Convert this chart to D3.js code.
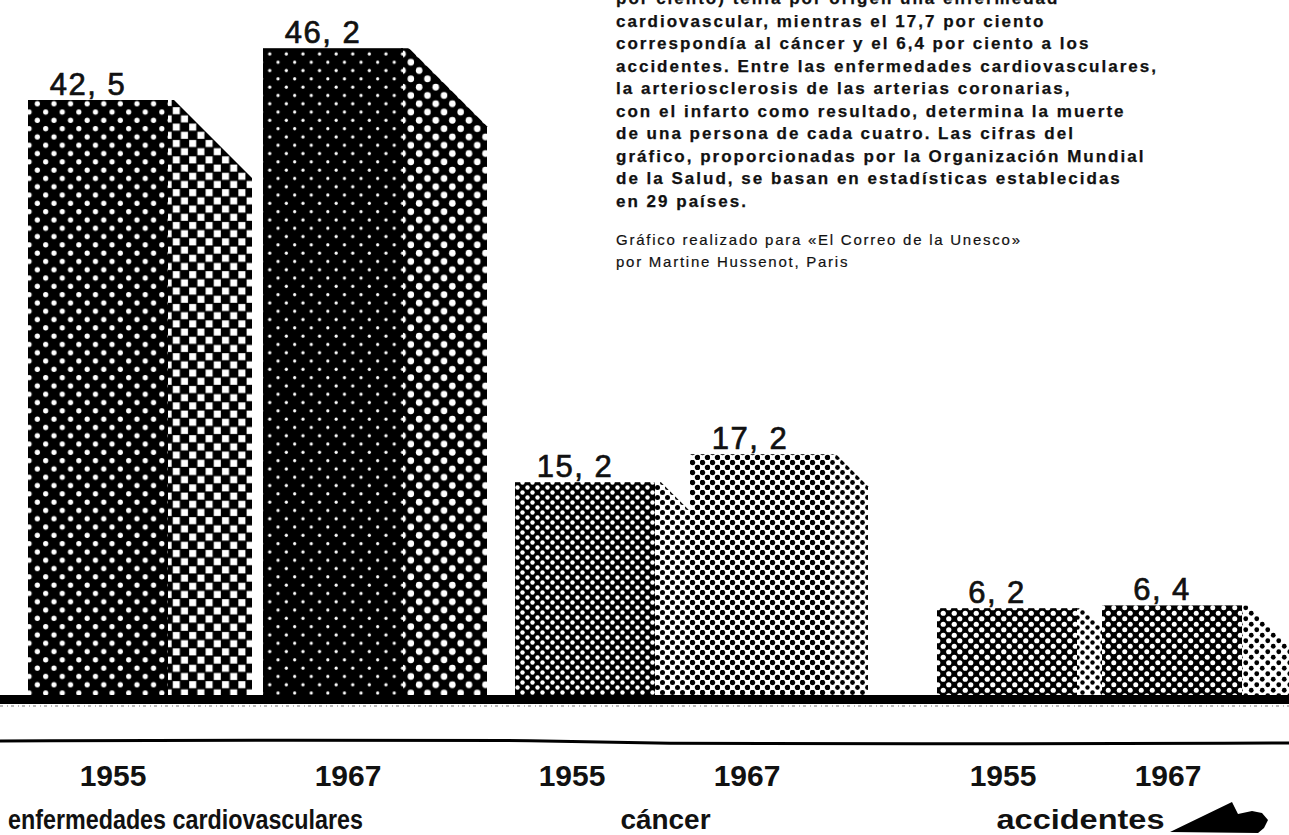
<!DOCTYPE html>
<html lang="es">
<head>
<meta charset="UTF-8">
<title>Causas de muerte 1955 - 1967</title>
<script src="https://d3js.org/d3.v7.min.js"></script>
<style>
  body { margin: 0; background: #fff; }
  svg { display: block; background: #fff; }
  .value { font-family: "Liberation Sans", Arial, sans-serif; font-size: 31px; letter-spacing: 1.5px; fill: #111; stroke: #111; stroke-width: 0.7px; }
  .year, .cat { font-family: "Liberation Sans", Arial, sans-serif; font-weight: bold; fill: #111; }
  .year { font-size: 30px; }
  .cat { font-size: 28px; }
  .note { font-family: "Liberation Sans", Arial, sans-serif; font-weight: bold; font-size: 17px; fill: #111; stroke: #111; stroke-width: 0.25px; }
  .credit { font-family: "Liberation Sans", Arial, sans-serif; font-size: 15px; fill: #111; stroke: #111; stroke-width: 0.2px; }
</style>
</head>
<body>
<svg id="chart" width="1289" height="835"></svg>
<script>
// datos (por ciento de las defunciones)
const categories = ["enfermedades cardiovasculares", "cáncer", "accidentes"];
const years = ["1955", "1967"];
const values1955 = [42.5, 15.2, 6.2];
const values1967 = [46.2, 17.2, 6.4];

const noteLines = [
  "por ciento) tenía por origen una enfermedad",
  "cardiovascular, mientras el 17,7 por ciento",
  "correspondía al cáncer y el 6,4 por ciento a los",
  "accidentes. Entre las enfermedades cardiovasculares,",
  "la arteriosclerosis de las arterias coronarias,",
  "con el infarto como resultado, determina la muerte",
  "de una persona de cada cuatro. Las cifras del",
  "gráfico, proporcionadas por la Organización Mundial",
  "de la Salud, se basan en estadísticas establecidas",
  "en 29 países."
];
const creditLines = [
  "Gráfico realizado para «El Correo de la Unesco»",
  "por Martine Hussenot, Paris"
];

// maquetación (estilo, no datos)
const W = 1289, H = 835;
const base = 695;
const barW = 140;
const groupLayout = [
  { inner: 235, depth: 84, gap: 28, labelWidth: 355, labelShift: -30, yearShift: 15 },
  { inner: 175, depth: 38, gap: 69, labelWidth: 90, labelShift: -7, yearShift: -13 },
  { inner: 165, depth: 48, gap: 0, labelWidth: 168, labelShift: -9, yearShift: -4 }
];
const noteX = 616, noteWidth = 540;
// tramas: [frente, lado] por barra
const patterns = [
  [["dots", 16.6, "#000", "#fff", 2.6], ["checker", 8.2]],
  [["dots", 16.6, "#000", "#fff", 1.6], ["dots", 16.6, "#000", "#fff", 3.3]],
  [["dots", 10, "#000", "#fff", 2.2], ["dots", 10, "#fff", "#000", 2.5]],
  [["dots", 10, "#fff", "#000", 2.7], ["dots", 10, "#fff", "#000", 2.4]],
  [["dots", 11, "#000", "#fff", 2.6], ["dots", 10, "#fff", "#000", 2.2]],
  [["dots", 11, "#000", "#fff", 2.5], ["dots", 11, "#fff", "#000", 2.4]]
];

const svg = d3.select("#chart");
const defs = svg.append("defs");

function makePattern(id, spec) {
  if (spec[0] === "checker") {
    let s = spec[1];
    let p = defs.append("pattern").attr("id", id).attr("patternUnits", "userSpaceOnUse")
      .attr("width", 2 * s).attr("height", 2 * s);
    p.append("rect").attr("width", 2 * s).attr("height", 2 * s).attr("fill", "#000");
    p.append("rect").attr("x", 0.6).attr("y", 0.6).attr("width", s - 1.2).attr("height", s - 1.2).attr("fill", "#fff");
    p.append("rect").attr("x", s + 0.6).attr("y", s + 0.6).attr("width", s - 1.2).attr("height", s - 1.2).attr("fill", "#fff");
    return;
  }
  let [, s, bg, fg, r] = spec;
  let p = defs.append("pattern").attr("id", id).attr("patternUnits", "userSpaceOnUse")
    .attr("width", s).attr("height", s);
  p.append("rect").attr("width", s).attr("height", s).attr("fill", bg);
  [[s / 4, s / 4], [3 * s / 4, 3 * s / 4]].forEach(c => {
    p.append("circle").attr("cx", c[0]).attr("cy", c[1]).attr("r", r).attr("fill", fg);
  });
}

// posiciones de grupo a partir de la maquetación
const groupWidths = groupLayout.map(g => g.inner + barW + g.depth + g.gap);
const starts = [0].concat(Array.from(d3.cumsum(groupWidths)).slice(0, -1)).map(v => v + 28);
const xGroup = d3.scaleOrdinal().domain(categories).range(starts);

const y = d3.scaleLinear().domain([0, 50]).range([base, base - 700]);

const bars = [];
categories.forEach((c, i) => {
  bars.push({ cat: c, gi: i, year: years[0], value: values1955[i], x: xGroup(c), depth: groupLayout[i].depth });
  bars.push({ cat: c, gi: i, year: years[1], value: values1967[i], x: xGroup(c) + groupLayout[i].inner, depth: groupLayout[i].depth });
});
bars.forEach((b, i) => {
  makePattern("pf" + i, patterns[i][0]);
  makePattern("ps" + i, patterns[i][1]);
});

const flat = 6;
const g = svg.append("g");
bars.forEach((b, i) => {
  let top = y(b.value), x1 = b.x + barW;
  g.append("path")
    .attr("d", d3.line()([[x1 - 2, top], [x1 + flat, top], [x1 + b.depth, top + b.depth - flat], [x1 + b.depth, base], [x1 - 2, base]]) + "Z")
    .attr("fill", "url(#ps" + i + ")");
  g.append("rect")
    .attr("x", b.x).attr("y", top).attr("width", barW).attr("height", base - top)
    .attr("fill", "url(#pf" + i + ")");
  g.append("text").attr("class", "value")
    .attr("x", b.x + barW / 2 - 10).attr("y", top - 5).attr("text-anchor", "middle")
    .text(b.value.toFixed(1).replace(".", ", "));
});

// línea de base
svg.append("rect").attr("x", 0).attr("y", base).attr("width", W).attr("height", 9).attr("fill", "#000");
svg.append("line").attr("x1", 0).attr("x2", W).attr("y1", base + 11).attr("y2", base + 11)
  .attr("stroke", "#777").attr("stroke-width", 1.2).attr("stroke-dasharray", "3 4 1 3");
svg.append("path")
  .attr("d", d3.line().curve(d3.curveBasis)([[0, 741], [300, 740], [560, 740], [640, 744], [900, 744], [1289, 743]]))
  .attr("fill", "none").attr("stroke", "#000").attr("stroke-width", 3);

// etiquetas de año y categoría
bars.forEach(b => {
  svg.append("text").attr("class", "year")
    .attr("x", b.x + barW / 2 + groupLayout[b.gi].yearShift).attr("y", 786).attr("text-anchor", "middle").text(b.year);
});
categories.forEach((c, i) => {
  let mid = (bars[2 * i].x + bars[2 * i + 1].x + barW) / 2 + groupLayout[i].labelShift;
  svg.append("text").attr("class", "cat")
    .attr("x", mid).attr("y", 829).attr("text-anchor", "middle")
    .attr("textLength", groupLayout[i].labelWidth).attr("lengthAdjust", "spacingAndGlyphs")
    .text(c);
});

// flecha decorativa
svg.append("path")
  .attr("d", "M1170,832 L1232,802 L1238,814 L1252,811 L1262,813 L1268,820 L1264,828 L1258,833 Z")
  .attr("fill", "#000");

// texto explicativo
const note = svg.append("g").attr("transform", "translate(" + noteX + ",0)");
const noteTexts = note.selectAll("text.note").data(noteLines).join("text")
  .attr("class", "note").attr("x", 0).attr("y", (d, i) => 4 + i * 22.5).text(d => d);
let longest = noteTexts.filter((d, i) => i === 3).node();
let ls = (noteWidth - longest.getComputedTextLength()) / (noteLines[3].length - 1);
noteTexts.style("letter-spacing", ls + "px");

const creditTexts = note.selectAll("text.credit").data(creditLines).join("text")
  .attr("class", "credit").attr("x", 0).attr("y", (d, i) => 245 + i * 22).text(d => d);
let c0 = creditTexts.filter((d, i) => i === 0).node();
let ls2 = (404 - c0.getComputedTextLength()) / (creditLines[0].length - 1);
creditTexts.style("letter-spacing", ls2 + "px");
</script>
</body>
</html>
